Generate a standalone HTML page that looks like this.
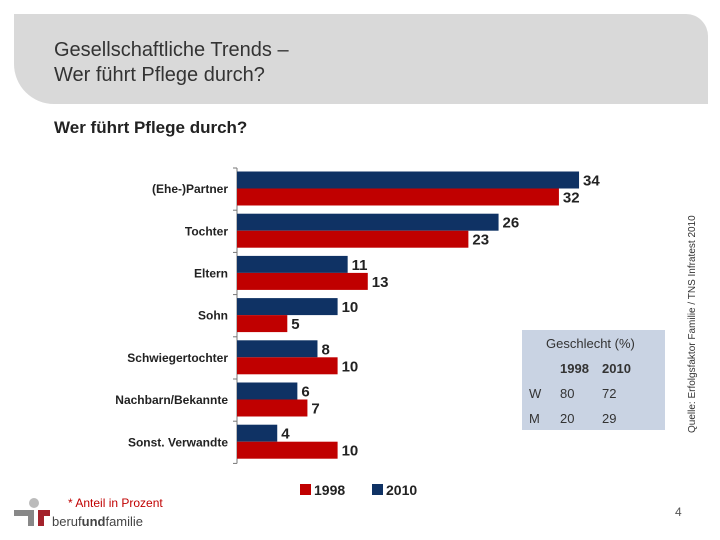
<!DOCTYPE html>
<html><head><meta charset="utf-8"><style>
body{margin:0;width:720px;height:540px;background:#fff;font-family:"Liberation Sans",sans-serif;position:relative;overflow:hidden}
.abs{position:absolute}
</style></head><body>
<div class="abs" style="left:14px;top:14px;width:694px;height:90px;background:#d9d9d9;border-radius:0 22px 0 40px"></div>
<div class="abs" style="left:54px;top:38px;font-size:20px;line-height:25px;color:#333">Gesellschaftliche Trends –<br>Wer führt Pflege durch?</div>
<div class="abs" style="left:54px;top:118px;font-size:17px;font-weight:bold;color:#222">Wer führt Pflege durch?</div>
<div class="abs" style="left:687px;top:433px;transform-origin:0 0;transform:rotate(-90deg);font-size:10px;color:#333;white-space:nowrap">Quelle: Erfolgsfaktor Familie / TNS Infratest 2010</div>
<svg class="abs" style="left:0;top:0" width="720" height="540" viewBox="0 0 720 540" id="chart"></svg>
<div class="abs" style="left:522px;top:330px;width:143px;height:100px;background:#c9d3e3;font-size:13px;color:#333">
<div class="abs" style="left:24px;top:6px">Geschlecht (%)</div>
<div class="abs" style="left:38px;top:31px;font-weight:bold">1998</div><div class="abs" style="left:80px;top:31px;font-weight:bold">2010</div>
<div class="abs" style="left:7px;top:56px">W</div><div class="abs" style="left:38px;top:56px">80</div><div class="abs" style="left:80px;top:56px">72</div>
<div class="abs" style="left:7px;top:81px">M</div><div class="abs" style="left:38px;top:81px">20</div><div class="abs" style="left:80px;top:81px">29</div>
</div>
<div class="abs" style="left:300px;top:482px;font-size:14px;font-weight:bold;color:#222"><span style="display:inline-block;width:11px;height:11px;background:#c00000;margin-right:3px"></span>1998</div>
<div class="abs" style="left:372px;top:482px;font-size:14px;font-weight:bold;color:#222"><span style="display:inline-block;width:11px;height:11px;background:#0f3264;margin-right:3px"></span>2010</div>
<div class="abs" style="left:68px;top:496px;font-size:12px;color:#c00000">* Anteil in Prozent</div>
<div class="abs" style="left:14px;top:498px;width:140px;height:32px">
<div class="abs" style="left:15px;top:0;width:10px;height:10px;border-radius:50%;background:#bbb"></div>
<div class="abs" style="left:0;top:12px;width:20px;height:6px;background:#888"></div>
<div class="abs" style="left:14px;top:12px;width:6px;height:16px;background:#888"></div>
<div class="abs" style="left:24px;top:12px;width:6px;height:16px;background:#a3222b"></div>
<div class="abs" style="left:24px;top:12px;width:12px;height:6px;background:#a3222b"></div>
<div class="abs" style="left:38px;top:16px;font-size:13px;color:#444">beruf<b>und</b>familie</div>
</div>
<div class="abs" style="left:675px;top:505px;font-size:12px;color:#555">4</div>
<script>
const categories=["(Ehe-)Partner","Tochter","Eltern","Sohn","Schwiegertochter","Nachbarn/Bekannte","Sonst. Verwandte"];
const values2010=[34,26,11,10,8,6,4];
const values1998=[32,23,13,5,10,7,10];
const svg=document.getElementById('chart');
const NS='http://www.w3.org/2000/svg';
const x0=237,scale=10.06,yTop=168,band=42.2,bh=17;
const xs=v=>x0+v*scale;
function mk(t,a){const e=document.createElementNS(NS,t);for(const k in a)e.setAttribute(k,a[k]);svg.appendChild(e);return e;}
const ax=mk('line',{x1:x0,y1:yTop,x2:x0,y2:yTop+band*7,stroke:'#777','stroke-width':1});


for(let i=0;i<=7;i++){const t=mk('line',{x1:x0-4,y1:yTop+i*band,x2:x0,y2:yTop+i*band,stroke:'#777'});

}
categories.forEach((c,i)=>{
  const y=yTop+i*band+3.5;
  const b=mk('rect',{x:x0,y:y,width:xs(values2010[i])-x0,height:bh,fill:'#0f3264'});
  
  
  const r=mk('rect',{x:x0,y:y+bh,width:xs(values1998[i])-x0,height:bh,fill:'#c00000'});
  
  
  const l1=mk('text',{x:xs(values2010[i])+4,y:y+14,'font-size':15,'font-weight':'bold',fill:'#222'});l1.textContent=values2010[i];
  
  
  const l2=mk('text',{x:xs(values1998[i])+4,y:y+bh+14,'font-size':15,'font-weight':'bold',fill:'#222'});l2.textContent=values1998[i];
  
  
  const cl=mk('text',{x:x0-9,y:yTop+i*band+band/2+4,'font-size':12,'font-weight':'bold',fill:'#222','text-anchor':'end'});cl.textContent=c;
  
  
});
</script>
</body></html>
